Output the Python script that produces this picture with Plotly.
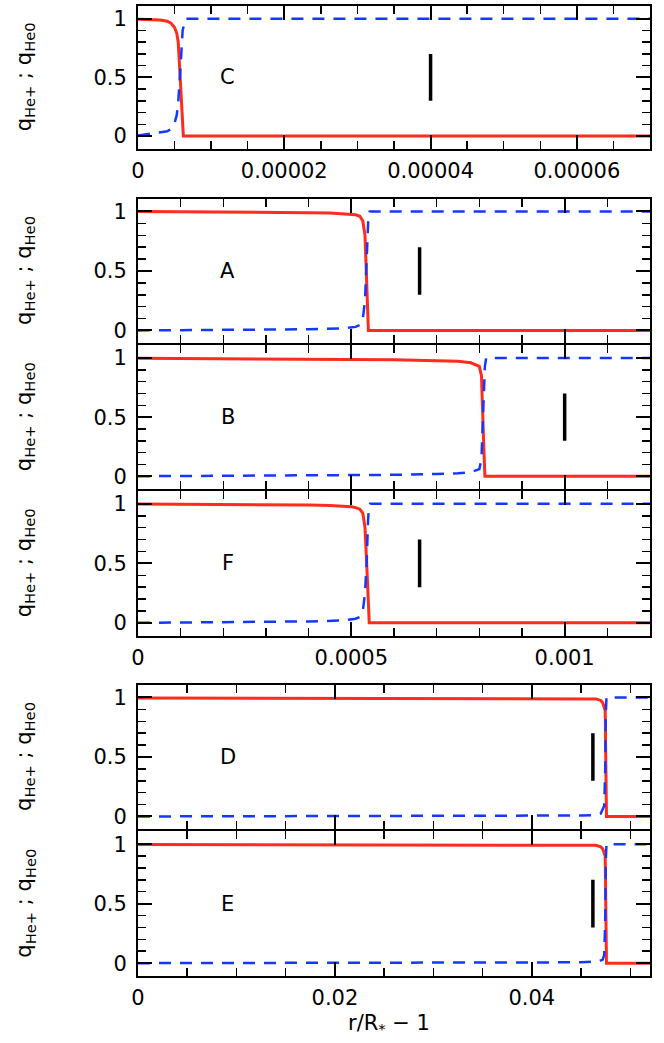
import plotly.graph_objects as go

# ---------------- data ----------------
panel_names = ["C", "A", "B", "F", "D", "E"]

# panel C
c_red_x = [0, 1e-6, 2e-6, 3e-6, 4e-6, 4.5e-6, 5e-6, 5.3e-6, 5.5e-6, 5.8e-6, 6.1e-6, 6.2e-6, 7e-5]
c_red_y = [0.995, 0.994, 0.992, 0.988, 0.978, 0.962, 0.925, 0.875, 0.8, 0.45, 0.03, 0.0, 0.0]
c_blue_x = [0, 2e-6, 3e-6, 4e-6, 4.5e-6, 5e-6, 5.3e-6, 5.5e-6, 5.8e-6, 6.1e-6, 6.5e-6, 7e-5]
c_blue_y = [0.005, 0.02, 0.03, 0.04, 0.06, 0.11, 0.18, 0.29, 0.57, 0.9, 1.0, 1.0]

# panel A
a_red_x = [0, 2e-4, 4e-4, 4.5e-4, 4.8e-4, 5e-4, 5.1e-4, 5.2e-4, 5.27e-4, 5.32e-4, 5.35e-4, 5.37e-4, 5.4e-4, 1.2e-3]
a_red_y = [0.999, 0.997, 0.99, 0.986, 0.982, 0.978, 0.972, 0.96, 0.92, 0.8, 0.5, 0.15, 0.0, 0.0]
a_blue_x = [0, 2e-4, 4e-4, 4.8e-4, 5e-4, 5.1e-4, 5.2e-4, 5.27e-4, 5.32e-4, 5.35e-4, 5.38e-4, 5.4e-4, 5.43e-4, 1.2e-3]
a_blue_y = [0.0, 0.003, 0.01, 0.018, 0.023, 0.03, 0.045, 0.1, 0.25, 0.5, 0.85, 0.96, 1.0, 1.0]

# panel B
b_red_x = [0, 3e-4, 6e-4, 7e-4, 7.5e-4, 7.8e-4, 8e-4, 8.05e-4, 8.08e-4, 8.1e-4, 8.13e-4, 1.2e-3]
b_red_y = [0.999, 0.995, 0.985, 0.978, 0.972, 0.96, 0.93, 0.85, 0.6, 0.3, 0.0, 0.0]
b_blue_x = [0, 3e-4, 6e-4, 7e-4, 7.5e-4, 7.8e-4, 8e-4, 8.05e-4, 8.08e-4, 8.1e-4, 8.13e-4, 8.16e-4, 1.2e-3]
b_blue_y = [0.0, 0.003, 0.012, 0.02, 0.025, 0.035, 0.06, 0.15, 0.4, 0.7, 0.93, 1.0, 1.0]

# panel F
f_red_x = [0, 2e-4, 4e-4, 4.5e-4, 4.8e-4, 5e-4, 5.1e-4, 5.2e-4, 5.27e-4, 5.32e-4, 5.36e-4, 5.39e-4, 5.42e-4, 1.2e-3]
f_red_y = [0.999, 0.997, 0.99, 0.986, 0.982, 0.976, 0.968, 0.955, 0.92, 0.8, 0.5, 0.15, 0.0, 0.0]
f_blue_x = [0, 2e-4, 4e-4, 4.8e-4, 5e-4, 5.1e-4, 5.2e-4, 5.27e-4, 5.32e-4, 5.36e-4, 5.39e-4, 5.41e-4, 5.44e-4, 1.2e-3]
f_blue_y = [0.0, 0.004, 0.012, 0.02, 0.027, 0.035, 0.05, 0.1, 0.25, 0.5, 0.85, 0.96, 1.0, 1.0]

# panel D
d_red_x = [0, 0.02, 0.04, 0.045, 0.0465, 0.0470, 0.0472, 0.04745, 0.04752, 0.04758, 0.052]
d_red_y = [0.996, 0.995, 0.993, 0.991, 0.988, 0.975, 0.955, 0.89, 0.4, 0.0, 0.0]
d_blue_x = [0, 0.02, 0.04, 0.045, 0.0465, 0.0470, 0.04735, 0.04745, 0.04752, 0.04758, 0.052]
d_blue_y = [0.0, 0.002, 0.005, 0.008, 0.012, 0.025, 0.09, 0.39, 0.88, 1.0, 1.0]

# panel E
e_red_x = [0, 0.02, 0.04, 0.045, 0.0465, 0.0470, 0.0472, 0.04745, 0.04752, 0.04758, 0.052]
e_red_y = [0.998, 0.997, 0.995, 0.993, 0.99, 0.978, 0.96, 0.9, 0.4, 0.0, 0.0]
e_blue_x = [0, 0.02, 0.04, 0.045, 0.0468, 0.0472, 0.04735, 0.04745, 0.04752, 0.04758, 0.052]
e_blue_y = [0.0, 0.002, 0.004, 0.007, 0.014, 0.03, 0.07, 0.35, 0.88, 1.0, 1.0]

# vertical marker positions
bar_x = [4e-5, 6.6e-4, 1.0e-3, 6.6e-4, 0.0462, 0.0462]
bar_y = [0.3, 0.7]

# axis ranges and ticks
x_range_c = [0, 7e-5]
x_range_abf = [0, 1.2e-3]
x_range_de = [0, 0.052]
x_tickvals_c = [0, 2e-5, 4e-5, 6e-5]
x_ticktext_c = ["0", "0.00002", "0.00004", "0.00006"]
x_tickvals_abf = [0, 5e-4, 1e-3]
x_ticktext_abf = ["0", "0.0005", "0.001"]
x_tickvals_de = [0, 0.02, 0.04]
x_ticktext_de = ["0", "0.02", "0.04"]
y_tickvals = [0, 0.5, 1]
y_ticktext = ["0", "0.5", "1"]

# ---------------- layout helpers ----------------
W, H = 664, 1043
AREA_T, AREA_B = 4, 976
AREA_L, AREA_R = 138, 650
ML, MR, MT, MB = AREA_L, W - AREA_R, AREA_T, H - AREA_B
PH = AREA_B - AREA_T
PW = AREA_R - AREA_L
# panel plot-area pixel extents (top, bottom)
pix = [(4, 147), (197, 342), (344, 488), (490, 635), (684, 829), (831, 976)]

def dom(t, b):
    return [(AREA_B - b) / PH, (AREA_B - t) / PH]

reds = [(c_red_x, c_red_y), (a_red_x, a_red_y), (b_red_x, b_red_y),
        (f_red_x, f_red_y), (d_red_x, d_red_y), (e_red_x, e_red_y)]
blues = [(c_blue_x, c_blue_y), (a_blue_x, a_blue_y), (b_blue_x, b_blue_y),
         (f_blue_x, f_blue_y), (d_blue_x, d_blue_y), (e_blue_x, e_blue_y)]
xr = [x_range_c, x_range_abf, x_range_abf, x_range_abf, x_range_de, x_range_de]
xtv = [x_tickvals_c, x_tickvals_abf, x_tickvals_abf, x_tickvals_abf, x_tickvals_de, x_tickvals_de]
xtt = [x_ticktext_c, x_ticktext_abf, x_ticktext_abf, x_ticktext_abf, x_ticktext_de, x_ticktext_de]
xminor = [5e-6, 1e-4, 1e-4, 1e-4, 0.005, 0.005]
show_xlabels = [True, False, False, True, False, True]

RED = "#ff2b1c"
BLUE = "#1438ff"
FONT = "DejaVu Sans"
FS = 21

fig = go.Figure()
layout = dict(
    width=W, height=H,
    margin=dict(l=ML, r=MR, t=MT, b=MB, pad=0),
    paper_bgcolor="white", plot_bgcolor="white",
    showlegend=False,
    font=dict(family=FONT, size=FS, color="black"),
)
annotations = []
for i in range(6):
    n = "" if i == 0 else str(i + 1)
    xa, ya = "x" + n, "y" + n
    rx, ry = reds[i]
    bx, by = blues[i]
    fig.add_trace(go.Scatter(x=rx, y=ry, mode="lines", xaxis=xa, yaxis=ya,
                             line=dict(color=RED, width=3), hoverinfo="skip"))
    fig.add_trace(go.Scatter(x=bx, y=by, mode="lines", xaxis=xa, yaxis=ya,
                             line=dict(color=BLUE, width=2.5, dash="12px,9px"), hoverinfo="skip"))
    fig.add_trace(go.Scatter(x=[bar_x[i], bar_x[i]], y=bar_y, mode="lines", xaxis=xa, yaxis=ya,
                             line=dict(color="black", width=3.5), hoverinfo="skip"))
    t, b = pix[i]
    d = dom(t, b)
    layout["xaxis" + n] = dict(
        domain=[0, 1], anchor=ya, range=xr[i],
        showline=True, linecolor="black", linewidth=2, mirror="allticks",
        ticks="inside", ticklen=14, tickwidth=2, tickcolor="black",
        tickmode="array", tickvals=xtv[i], ticktext=xtt[i],
        ticklabelstandoff=2,
        showticklabels=show_xlabels[i], showgrid=False, zeroline=False,
        tickfont=dict(family=FONT, size=FS, color="black"),
        minor=dict(ticks="inside", ticklen=8, tickwidth=1.5, tickcolor="black",
                   tickmode="linear", tick0=0, dtick=xminor[i], showgrid=False),
        fixedrange=True,
    )
    layout["yaxis" + n] = dict(
        domain=d, anchor=xa, range=[-0.108, 1.108],
        showline=True, linecolor="black", linewidth=2, mirror="allticks",
        ticks="inside", ticklen=14, tickwidth=2, tickcolor="black",
        tickmode="array", tickvals=y_tickvals, ticktext=y_ticktext,
        ticklabelstandoff=5,
        showgrid=False, zeroline=False,
        tickfont=dict(family=FONT, size=FS, color="black"),
        minor=dict(ticks="inside", ticklen=8, tickwidth=1.5, tickcolor="black",
                   tickmode="linear", tick0=0, dtick=0.1, showgrid=False),
        fixedrange=True,
    )
    annotations.append(dict(text=panel_names[i], xref=xa + " domain", yref=ya,
                            x=0.175, y=0.5, showarrow=False, xanchor="center", yanchor="middle",
                            font=dict(family=FONT, size=FS, color="black")))
    annotations.append(dict(text="q<sub>He+</sub> ; q<sub>He0</sub>", xref="paper", yref="paper",
                            x=(25 - AREA_L) / PW, y=(d[0] + d[1]) / 2, textangle=-90,
                            showarrow=False, xanchor="center", yanchor="middle",
                            font=dict(family=FONT, size=FS, color="black")))

annotations.append(dict(text="r/R<sub>*</sub> − 1", xref="paper", yref="paper",
                        x=(389 - AREA_L) / PW, y=(AREA_B - 1024) / PH,
                        showarrow=False, xanchor="center", yanchor="middle",
                        font=dict(family=FONT, size=FS, color="black")))
layout["annotations"] = annotations
fig.update_layout(**layout)
fig.write_html("out.html", config={"displayModeBar": False, "staticPlot": True},
               post_script="document.body.style.margin='0px';document.body.style.overflow='hidden';")
